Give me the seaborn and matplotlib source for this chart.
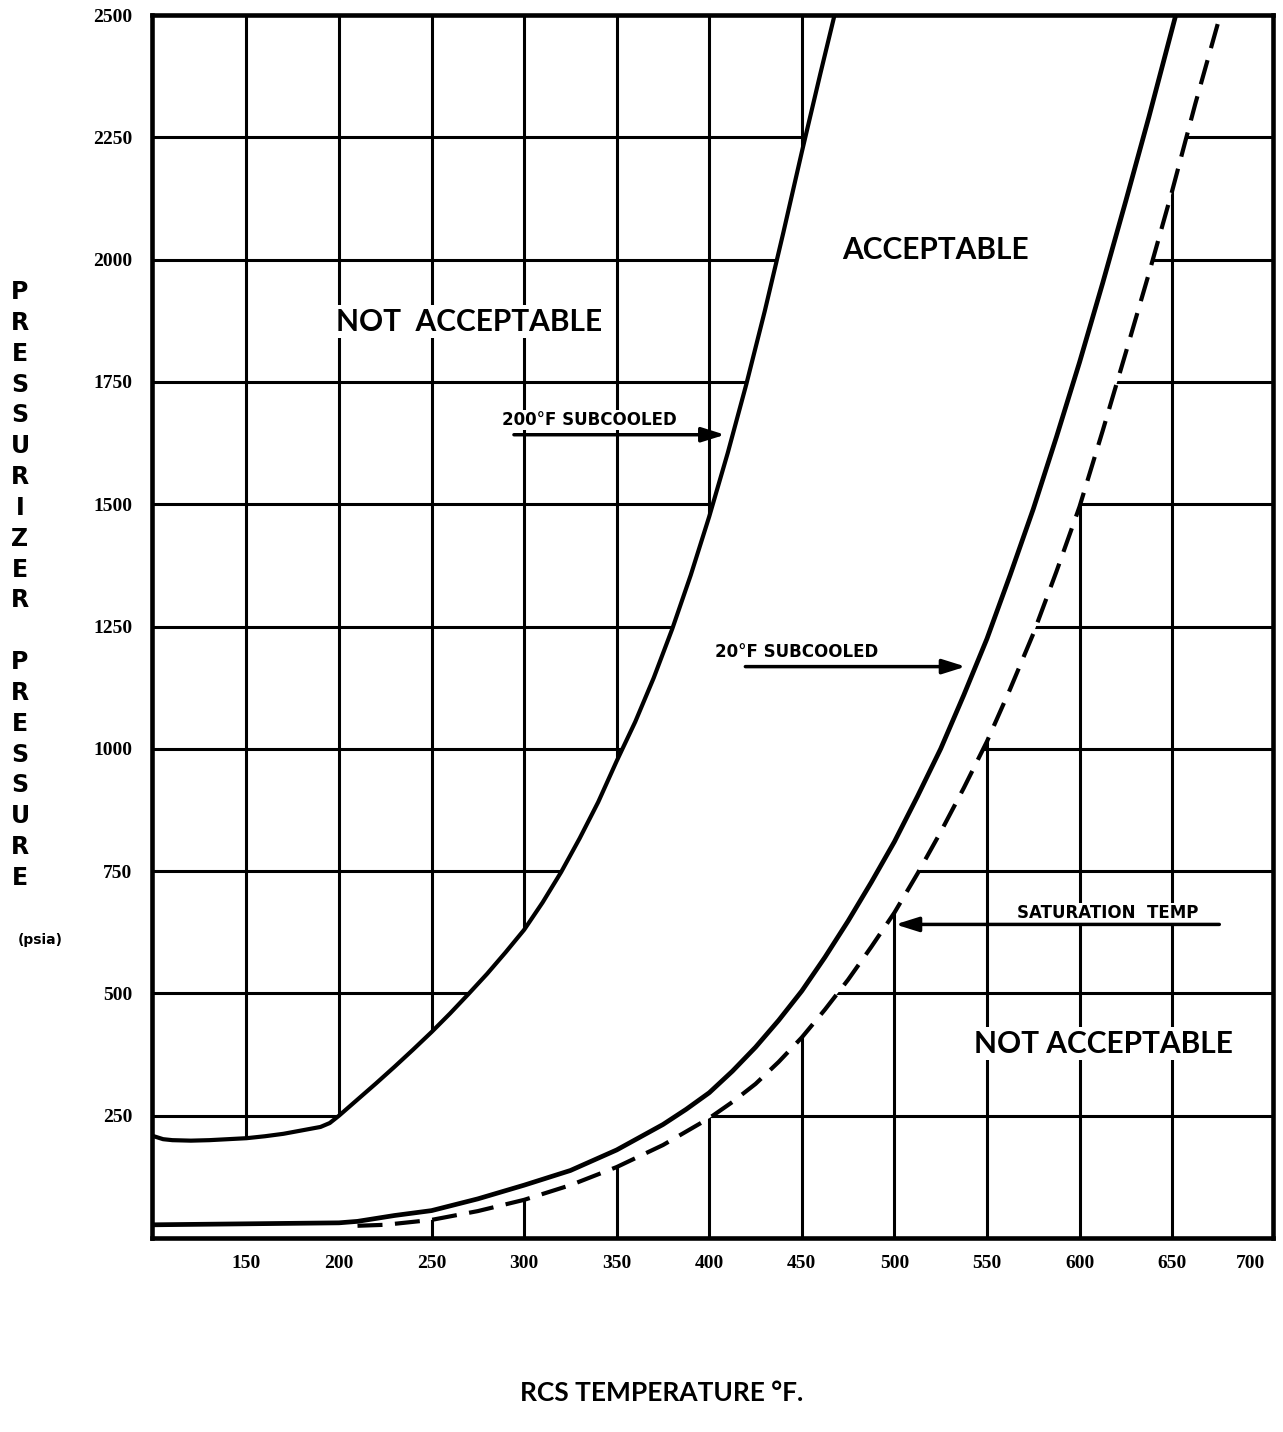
import matplotlib
matplotlib.use('Agg')  # headless
import matplotlib.pyplot as plt
import seaborn as sns
import pandas as pd

# --- data (RCS temperature in F, pressure in psia) ---
sub200_T = [100, 105, 110, 120, 130, 140, 150, 160, 170, 180, 190, 195, 200,
            210, 220, 230, 240, 250, 260, 270, 280, 290, 300, 310, 320, 330, 340,
            350, 360, 370, 380, 390, 400, 410, 420, 430, 440, 450, 460, 468]
sub200_P = [208, 202, 200, 199, 200, 202, 204, 208, 213, 220, 227, 235, 250,
            283, 316, 350, 385, 421, 459, 499, 540, 584, 630, 686, 748, 817, 891,
            975, 1055, 1145, 1245, 1355, 1475, 1605, 1745, 1895, 2055, 2220, 2380, 2505]

sub20_T = [100, 150, 200, 210, 220, 230, 240, 250, 275, 300, 325, 350, 375, 387.5,
           400, 412.5, 425, 437.5, 450, 462.5, 475, 487.5, 500, 512.5, 525, 537.5,
           550, 562.5, 575, 587.5, 600, 612.5, 625, 637.5, 652]
sub20_P = [27, 29, 31, 34, 40, 46, 51, 56, 80, 108, 138, 180, 232, 263,
           297, 341, 390, 445, 505, 574, 648, 727, 810, 903, 1000, 1110,
           1225, 1355, 1490, 1637, 1790, 1952, 2120, 2292, 2500]

sat_T = [210, 225, 250, 275, 300, 325, 350, 375, 400, 412.5, 425, 437.5, 450, 462.5,
         475, 487.5, 500, 512.5, 525, 537.5, 550, 562.5, 575, 587.5, 600, 612.5,
         625, 637.5, 650, 662.5, 676]
sat_P = [25, 27, 37, 55, 78, 108, 145, 190, 245, 278, 315, 360, 410, 467,
         528, 595, 665, 745, 830, 920, 1015, 1122, 1235, 1362, 1495, 1650,
         1810, 1972, 2140, 2318, 2500]

x_ticks = [150, 200, 250, 300, 350, 400, 450, 500, 550, 600, 650, 700]
y_ticks = [250, 500, 750, 1000, 1250, 1500, 1750, 2000, 2250, 2500]
grid_x = [150, 200, 250, 300, 350, 400, 450, 500, 550, 600, 650]
grid_y = [250, 500, 750, 1000, 1250, 1500, 1750, 2000, 2250]

sns.set_theme(style="white")
plt.rcParams['font.family'] = ['DejaVu Sans']
plt.rcParams['text.color'] = 'black'
plt.rcParams['xtick.color'] = 'black'
plt.rcParams['ytick.color'] = 'black'

fig = plt.figure(figsize=(12.83, 14.32), dpi=100)
ax = fig.add_axes([152 / 1283, 194 / 1432, 1121 / 1283, 1223 / 1432])
ax.set_xlim(99, 704.5)
ax.set_ylim(0, 2500)

# grid lines, later blanked out inside the acceptable band
for gx in grid_x:
    ax.axvline(gx, color='black', lw=2.2, zorder=1)
for gy in grid_y:
    ax.axhline(gy, color='black', lw=2.2, zorder=1)

# acceptable band (plus the strip below the curves at low temperature) has no grid
band_T = sub200_T + sat_T[::-1] + [sat_T[0], sub200_T[0]]
band_P = sub200_P + sat_P[::-1] + [0, 0]
ax.fill(band_T, band_P, color='white', lw=0, zorder=2)

df200 = pd.DataFrame({'T': sub200_T, 'P': sub200_P})
df20 = pd.DataFrame({'T': sub20_T, 'P': sub20_P})
dfsat = pd.DataFrame({'T': sat_T, 'P': sat_P})
sns.lineplot(data=df200, x='T', y='P', ax=ax, color='black', lw=3.0, zorder=3)
sns.lineplot(data=df20, x='T', y='P', ax=ax, color='black', lw=3.4, zorder=3)
sns.lineplot(data=dfsat, x='T', y='P', ax=ax, color='black', lw=3.0,
             linestyle=(0, (6, 3)), zorder=3)

# region labels
box = dict(facecolor='white', edgecolor='none', pad=2)
ax.text(270, 1873, 'NOT  ACCEPTABLE', ha='center', va='center', fontsize=21.5,
        family='Lato', fontweight='bold', bbox=box, zorder=5)
ax.text(522, 2020, 'ACCEPTABLE', ha='center', va='center', fontsize=21.5,
        family='Lato', fontweight='bold', bbox=box, zorder=5)
ax.text(613, 397, 'NOT ACCEPTABLE', ha='center', va='center', fontsize=21.5,
        family='Lato', fontweight='bold', bbox=box, zorder=5)

# curve callouts
small_box = dict(facecolor='white', edgecolor='none', pad=1)
arrow = dict(arrowstyle='-|>,head_length=0.7,head_width=0.22', color='black',
             lw=2.5, mutation_scale=20)
ax.text(288, 1672, '200°F SUBCOOLED', ha='left', va='center', fontsize=12,
        fontweight='bold', bbox=small_box, zorder=5)
ax.annotate('', xy=(410, 1642), xytext=(293, 1642), zorder=5, arrowprops=arrow)
ax.text(403, 1198, '20°F SUBCOOLED', ha='left', va='center', fontsize=12,
        fontweight='bold', bbox=small_box, zorder=5)
ax.annotate('', xy=(540, 1168), xytext=(418, 1168), zorder=5, arrowprops=arrow)
ax.text(566, 664, 'SATURATION  TEMP', ha='left', va='center', fontsize=12,
        fontweight='bold', bbox=small_box, zorder=5)
ax.annotate('', xy=(499, 641), xytext=(677, 641), zorder=5, arrowprops=arrow)

# axes styling
for side in ['left', 'right', 'top', 'bottom']:
    ax.spines[side].set_visible(True)
    ax.spines[side].set_color('black')
    ax.spines[side].set_linewidth(3.3)
ax.set_xticks(x_ticks)
ax.set_xticklabels([str(t) for t in x_ticks])
ax.set_yticks(y_ticks)
ax.set_yticklabels([str(t) for t in y_ticks])
ax.xaxis.get_majorticklabels()[-1].set_ha('right')
ax.tick_params(axis='x', length=0, pad=12)
ax.tick_params(axis='y', length=0, pad=14)
for lab in ax.get_xticklabels() + ax.get_yticklabels():
    lab.set_family('Liberation Serif')
    lab.set_fontweight('bold')
    lab.set_fontsize(14)
ax.set_xlabel('')
ax.set_ylabel('')

# stacked y-axis title and units
fig.text(20 / 1283, 1 - 585 / 1432, '\n'.join('PRESSURIZER PRESSURE'),
         ha='center', va='center', fontsize=17, fontweight='bold', linespacing=1.36)
fig.text(40 / 1283, 1 - 940 / 1432, '(psia)', ha='center', va='center',
         fontsize=10, fontweight='bold')
fig.text(662 / 1283, 1 - 1393 / 1432, 'RCS TEMPERATURE °F.', ha='center', va='center',
         fontsize=19, family='Lato', fontweight='bold')

fig.savefig('out.png', dpi=100)
plt.close(fig)
